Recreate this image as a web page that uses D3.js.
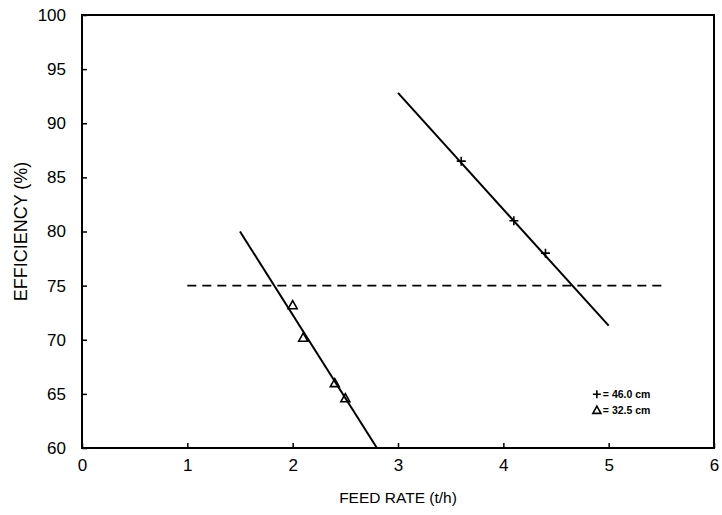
<!DOCTYPE html>
<html>
<head>
<meta charset="utf-8">
<script src="https://cdn.jsdelivr.net/npm/d3@7"></script>
<style>
  body { margin: 0; background: #fff; }
  svg { display: block; font-family: "Liberation Sans", Arial, sans-serif; }
</style>
</head>
<body>
<div id="chart"></div>
<script>
// Data
const xTicks = [0, 1, 2, 3, 4, 5, 6];
const yTicks = [60, 65, 70, 75, 80, 85, 90, 95, 100];

// 46.0 cm screen (+)
const plusPoints = [[3.6, 86.5], [4.1, 81.0], [4.4, 78.0]];
const plusFit = [[3.0, 92.8], [5.0, 71.3]];

// 32.5 cm screen (triangle)
const triPoints = [[2.0, 73.2], [2.1, 70.2], [2.4, 66.0], [2.5, 64.6]];
const triFit = [[1.5, 80.0], [2.8, 60.0]];

// 75 % reference line
const refLine = [[1.0, 75], [5.5, 75]];

const legendItems = [
  { symbol: 'plus', label: '= 46.0 cm' },
  { symbol: 'tri', label: '= 32.5 cm' },
];

const W = 722, H = 515;
const MARGIN = { top: 15, right: 8, bottom: 67, left: 82 };

const svg = d3.select('#chart').append('svg')
  .attr('width', W)
  .attr('height', H);

const x = d3.scaleLinear().domain([0, 6]).range([MARGIN.left, W - MARGIN.right]);
const y = d3.scaleLinear().domain([60, 100]).range([H - MARGIN.bottom, MARGIN.top]);

// Frame
svg.append('rect')
  .attr('x', x(0)).attr('y', y(100))
  .attr('width', x(6) - x(0)).attr('height', y(60) - y(100))
  .attr('fill', 'none').attr('stroke', '#000').attr('stroke-width', 2);

// Axes (ticks inward)
const xAxis = svg.append('g')
  .attr('transform', `translate(0, ${y(60)})`)
  .call(d3.axisBottom(x).tickValues(xTicks).tickFormat(d3.format('d'))
    .tickSizeInner(-5).tickSizeOuter(0).tickPadding(11));
const yAxis = svg.append('g')
  .attr('transform', `translate(${x(0)}, 0)`)
  .call(d3.axisLeft(y).tickValues(yTicks).tickFormat(d3.format('d'))
    .tickSizeInner(-5).tickSizeOuter(0).tickPadding(16));

[xAxis, yAxis].forEach(a => {
  a.select('.domain').remove();
  a.selectAll('.tick line').attr('stroke', '#000').attr('stroke-width', 1.5);
  a.selectAll('.tick text')
    .attr('fill', '#000')
    .attr('font-size', 17)
    .attr('font-family', '"Liberation Sans", Arial, sans-serif');
});

// Axis titles
svg.append('text')
  .attr('x', x(3)).attr('y', 503)
  .attr('text-anchor', 'middle')
  .attr('font-size', 15.5)
  .text('FEED RATE (t/h)');

svg.append('text')
  .attr('transform', `translate(27, ${y(80)}) rotate(-90)`)
  .attr('text-anchor', 'middle')
  .attr('font-size', 18)
  .text('EFFICIENCY (%)');

const line = d3.line().x(d => x(d[0])).y(d => y(d[1]));

// Reference line at 75 %
svg.append('path')
  .attr('d', line(refLine))
  .attr('fill', 'none')
  .attr('stroke', '#000')
  .attr('stroke-width', 1.6)
  .attr('stroke-dasharray', '9,6');

// Fit lines
[plusFit, triFit].forEach(seg => {
  svg.append('path')
    .attr('d', line(seg))
    .attr('fill', 'none')
    .attr('stroke', '#000')
    .attr('stroke-width', 2);
});

function drawPlus(g, cx, cy, s) {
  g.append('path')
    .attr('d', `M${cx - s},${cy}H${cx + s}M${cx},${cy - s}V${cy + s}`)
    .attr('stroke', '#000').attr('stroke-width', 1.6).attr('fill', 'none');
}
function drawTri(g, cx, cy, s) {
  g.append('path')
    .attr('d', `M${cx},${cy - s}L${cx + s},${cy + s * 0.8}L${cx - s},${cy + s * 0.8}Z`)
    .attr('stroke', '#000').attr('stroke-width', 1.6).attr('fill', 'none');
}

const marks = svg.append('g');
plusPoints.forEach(d => drawPlus(marks, x(d[0]), y(d[1]), 4.5));
triPoints.forEach(d => drawTri(marks, x(d[0]), y(d[1]), 4.5));

// Legend
const leg = svg.append('g').attr('transform', `translate(${x(4.85)}, ${y(64.6)})`);
legendItems.forEach((it, i) => {
  const gy = i * 16;
  if (it.symbol === 'plus') drawPlus(leg, 4, gy - 4, 4);
  else drawTri(leg, 4, gy - 4, 4);
  leg.append('text')
    .attr('x', 10).attr('y', gy)
    .attr('font-size', 10.5)
    .attr('font-weight', 'bold')
    .text(it.label);
});
</script>
</body>
</html>
